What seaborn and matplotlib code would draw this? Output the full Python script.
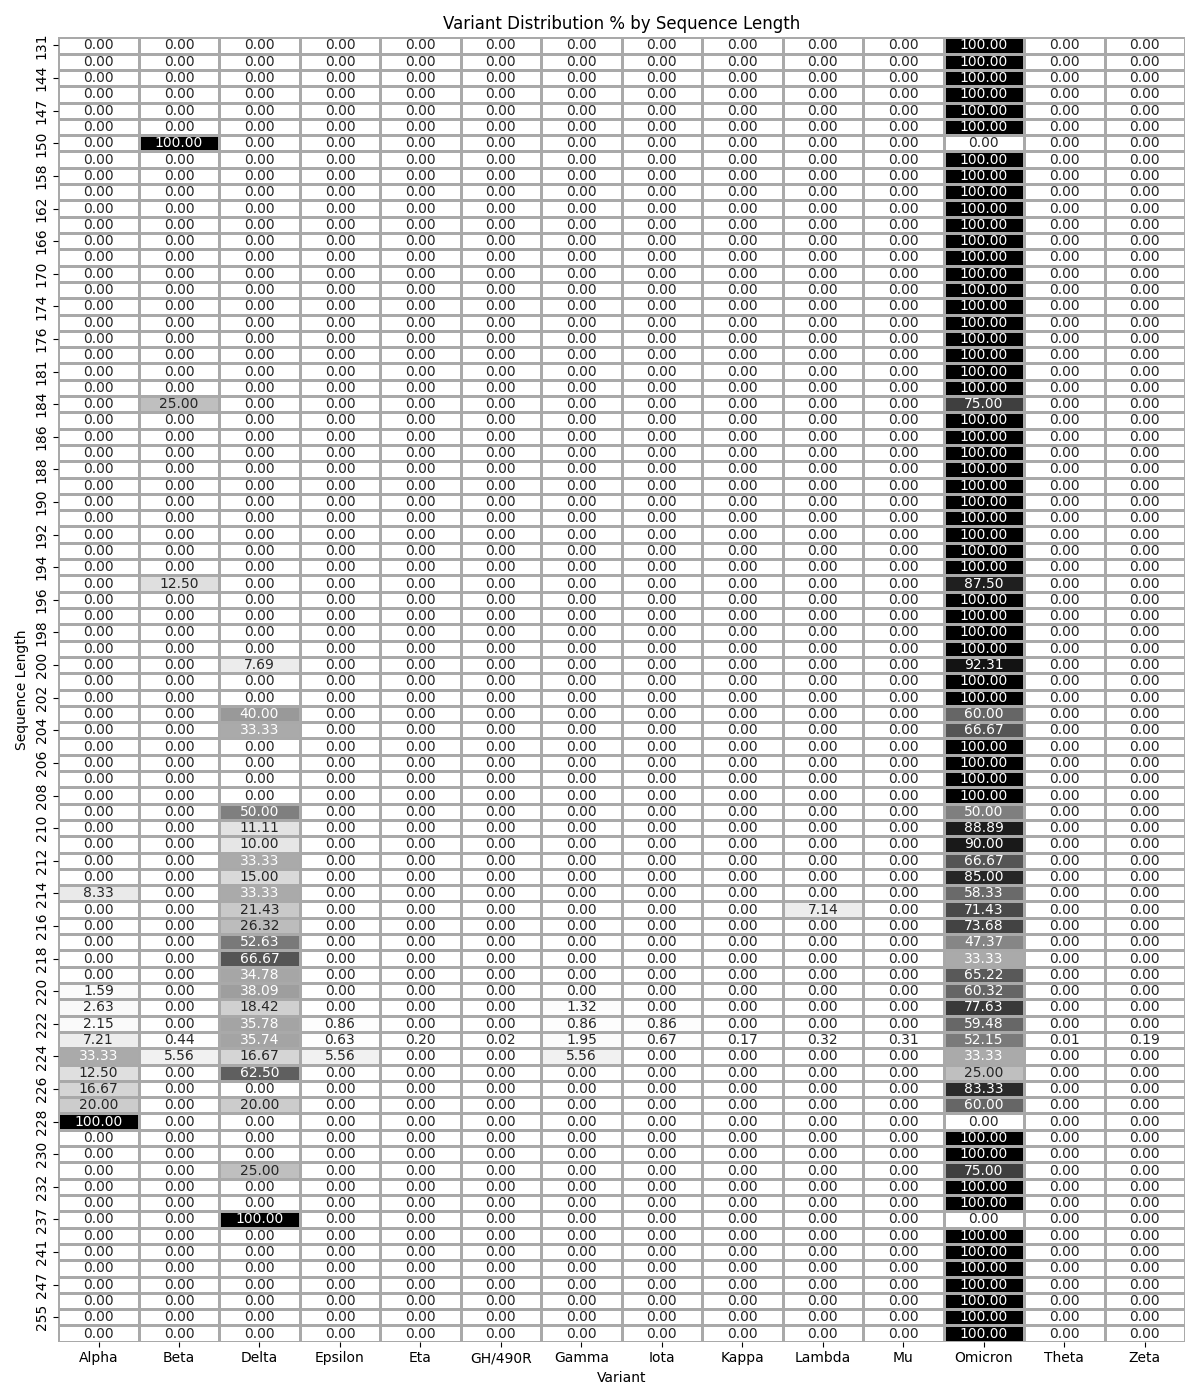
import matplotlib
matplotlib.use("Agg")
import matplotlib.pyplot as plt
import pandas as pd
import numpy as np
import seaborn as sns

# Variant columns
variants = ['Alpha', 'Beta', 'Delta', 'Epsilon', 'Eta', 'GH/490R', 'Gamma',
            'Iota', 'Kappa', 'Lambda', 'Mu', 'Omicron', 'Theta', 'Zeta']

# Sequence lengths (every other label is hidden in the reference; hidden ones estimated)
seq_lengths = [131, 138, 144, 146, 147, 149, 150, 154, 158, 160,
               162, 164, 166, 168, 170, 172, 174, 175, 176, 178,
               181, 183, 184, 185, 186, 187, 188, 189, 190, 191,
               192, 193, 194, 195, 196, 197, 198, 199, 200, 201,
               202, 203, 204, 205, 206, 207, 208, 209, 210, 211,
               212, 213, 214, 215, 216, 217, 218, 219, 220, 221,
               222, 223, 224, 225, 226, 227, 228, 229, 230, 231,
               232, 235, 237, 239, 241, 244, 247, 250, 255, 260]

# Non-Omicron percentages per sequence length (only non-zero entries)
other_pct = {
    150: {'Beta': 100.0},
    184: {'Beta': 25.0},
    195: {'Beta': 12.5},
    200: {'Delta': 7.69},
    203: {'Delta': 40.0},
    204: {'Delta': 33.33},
    209: {'Delta': 50.0},
    210: {'Delta': 11.11},
    211: {'Delta': 10.0},
    212: {'Delta': 33.33},
    213: {'Delta': 15.0},
    214: {'Alpha': 8.33, 'Delta': 33.33},
    215: {'Delta': 21.43, 'Lambda': 7.14},
    216: {'Delta': 26.32},
    217: {'Delta': 52.63},
    218: {'Delta': 66.67},
    219: {'Delta': 34.78},
    220: {'Alpha': 1.59, 'Delta': 38.09},
    221: {'Alpha': 2.63, 'Delta': 18.42, 'Gamma': 1.32},
    222: {'Alpha': 2.15, 'Delta': 35.78, 'Epsilon': 0.86, 'Gamma': 0.86, 'Iota': 0.86},
    223: {'Alpha': 7.21, 'Beta': 0.44, 'Delta': 35.74, 'Epsilon': 0.63, 'Eta': 0.20,
          'GH/490R': 0.02, 'Gamma': 1.95, 'Iota': 0.67, 'Kappa': 0.17, 'Lambda': 0.32,
          'Mu': 0.31, 'Theta': 0.01, 'Zeta': 0.19},
    224: {'Alpha': 33.33, 'Beta': 5.56, 'Delta': 16.67, 'Epsilon': 5.56, 'Gamma': 5.56},
    225: {'Alpha': 12.5, 'Delta': 62.5},
    226: {'Alpha': 16.67},
    227: {'Alpha': 20.0, 'Delta': 20.0},
    228: {'Alpha': 100.0},
    231: {'Delta': 25.0},
    237: {'Delta': 100.0},
}

# Omicron percentages (100 unless listed)
omicron_pct = {150: 0.0, 184: 75.0, 195: 87.5, 200: 92.31, 203: 60.0, 204: 66.67,
               209: 50.0, 210: 88.89, 211: 90.0, 212: 66.67, 213: 85.0, 214: 58.33,
               215: 71.43, 216: 73.68, 217: 47.37, 218: 33.33, 219: 65.22, 220: 60.32,
               221: 77.63, 222: 59.48, 223: 52.15, 224: 33.33, 225: 25.0, 226: 83.33,
               227: 60.0, 228: 0.0, 231: 75.0, 237: 0.0}

df = pd.DataFrame(0.0, index=seq_lengths, columns=variants)
for length in seq_lengths:
    df.loc[length, 'Omicron'] = omicron_pct.get(length, 100.0)
    for var, val in other_pct.get(length, {}).items():
        df.loc[length, var] = val
df.index.name = 'Sequence Length'
df.columns.name = 'Variant'

fig, ax = plt.subplots(figsize=(12, 14), dpi=100)
sns.heatmap(df, annot=True, fmt='.2f', cmap='gray_r', cbar=False,
            linewidths=0.8, linecolor='darkgray', yticklabels=2, ax=ax)
ax.set_title('Variant Distribution % by Sequence Length')
ax.set_xlabel('Variant')
ax.set_ylabel('Sequence Length')

plt.tight_layout()
plt.savefig('out.png')
